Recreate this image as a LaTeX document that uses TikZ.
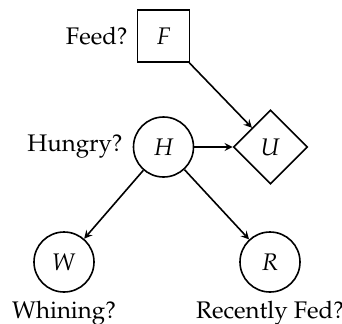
\documentclass[tikz,border=0pt]{standalone}
\usepackage[T1]{fontenc}
\usepackage{mathpazo}
\usetikzlibrary{shapes.geometric}
\tikzset{de/.style = {rectangle, thick, minimum size=26.0pt, inner sep=0pt, draw},
         ch/.style = {circle, thick, minimum size=30.0pt, inner sep=0pt, draw},
         ut/.style = {diamond, thick, minimum size=37.0pt, inner sep=0pt, draw}}
\begin{document}
\begin{tikzpicture}[x=0.5pt, y=-0.5pt, >=stealth, font=\fontsize{12}{14}\selectfont]
    \useasboundingbox (0,0) rectangle (342,323);
    \node[de, label={[label distance=1pt]left:Feed?}] (F) at (163.5,36) {$F$};
    \node[ch, label={[label distance=1.5pt]left:Hungry?}] (H) at (163.5,147) {$H$};
    \node[ut] (U) at (270.5,147) {$U$};
    \node[ch, label={[label distance=0.5pt]below:Whining?}] (W) at (64,262) {$W$};
    \node[ch, label={[label distance=0.5pt]below:Recently Fed?}] (R) at (270,262) {$R$};
    \draw[->, thick] (F) -- (U);
    \draw[->, thick] (H) -- (U);
    \draw[->, thick] (H) -- (W);
    \draw[->, thick] (H) -- (R);
\end{tikzpicture}
\end{document}
